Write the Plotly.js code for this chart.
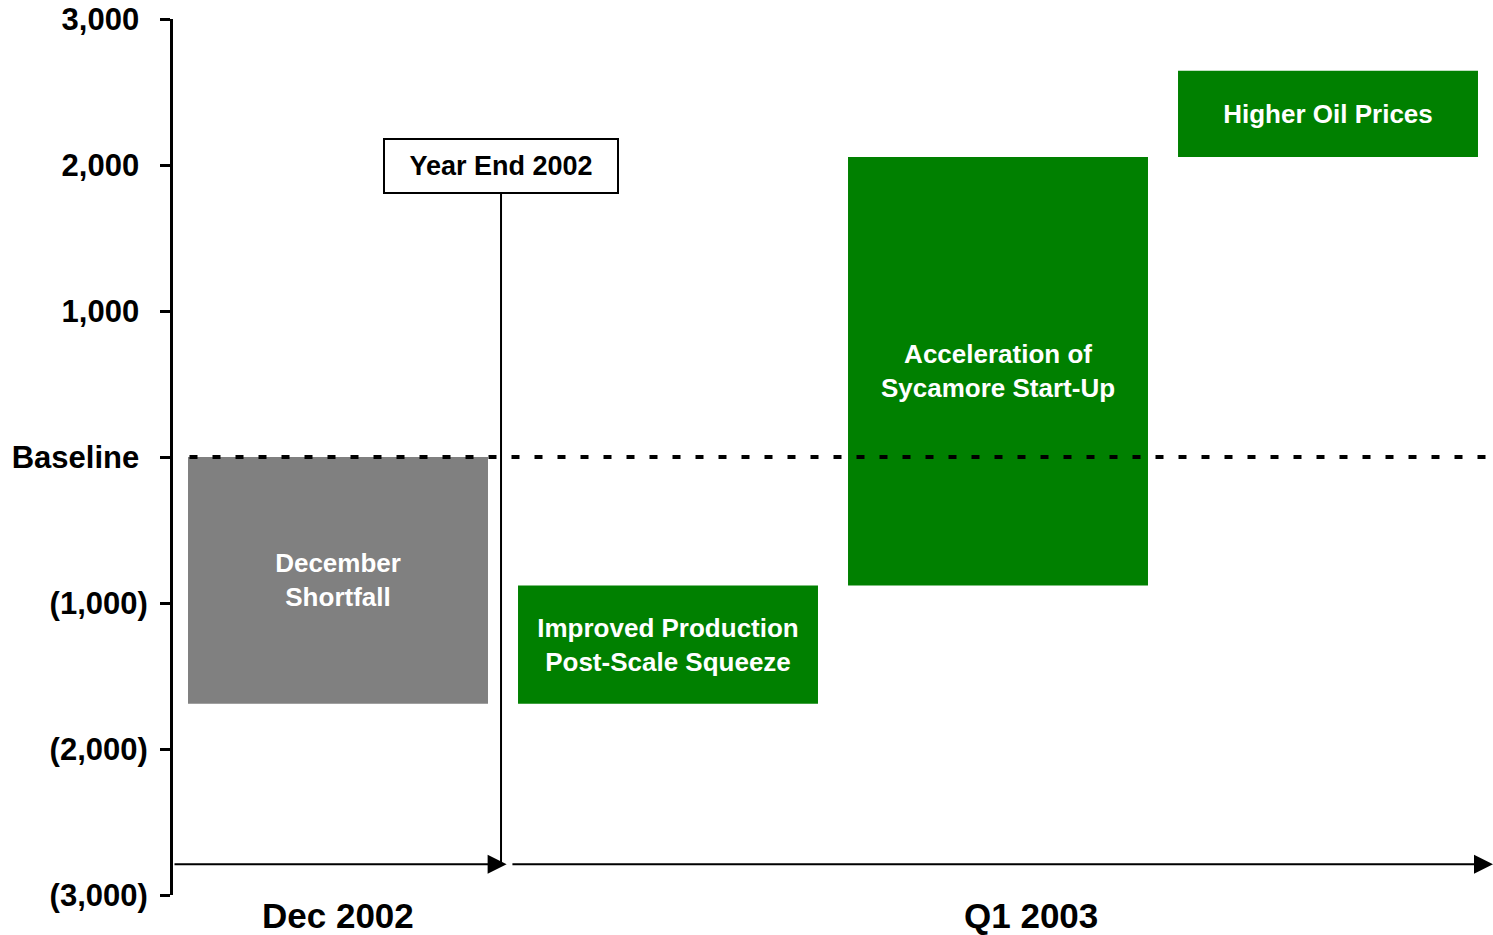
<!DOCTYPE html>
<html>
<head>
<meta charset="utf-8">
<script src="https://cdn.plot.ly/plotly-3.0.1.min.js"></script>
<style>html,body{margin:0;padding:0;background:#fff;}#chart{width:1493px;height:935px;}</style>
</head>
<body>
<div id="chart"></div>
<script>
// ---- data ----
const categories = ["December<br>Shortfall", "Improved Production<br>Post-Scale Squeeze", "Acceleration of<br>Sycamore Start-Up", "Higher Oil Prices"];
const deltas = [-1690, 810, 2935, 590];
const barColors = ["#808080", "#008000", "#008000", "#008000"];
const yTickVals = [3000, 2000, 1000, 0, -1000, -2000, -3000];
const yTickText = ["3,000\u00a0", "2,000\u00a0", "1,000\u00a0", "Baseline\u00a0", "(1,000)", "(2,000)", "(3,000)"];
const periodLabels = ["Dec 2002", "Q1 2003"];
const markerLabel = "Year End 2002";

// cumulative bases
const bases = [];
let run = 0;
for (const d of deltas) { bases.push(run); run += d; }
const xs = categories.map((_, i) => i + 0.5);

const FONT = "Liberation Sans, Arial, sans-serif";

const trace = {
  type: "bar",
  x: xs,
  y: deltas,
  base: bases,
  width: 0.909,
  marker: {color: barColors, line: {width: 0}},
  text: categories,
  textposition: "inside",
  insidetextanchor: "middle",
  textangle: 0,
  textfont: {family: FONT, size: 26, color: "#ffffff", weight: "bold"},
  hoverinfo: "skip",
  cliponaxis: false
};

const arrowY = -2790;
const periodX = [0.5, 2.6];
const periodAnn = periodLabels.map((t, i) => ({
  xref: "x", yref: "y", x: periodX[i], y: -3000, yanchor: "top", yshift: 1,
  text: t, showarrow: false,
  font: {family: FONT, size: 35, color: "#000", weight: "bold"}
}));

const layout = {
  width: 1493, height: 935,
  margin: {l: 173, r: 0, t: 19, b: 40},
  paper_bgcolor: "#ffffff", plot_bgcolor: "#ffffff",
  showlegend: false,
  xaxis: {
    range: [0, 4], showgrid: false, zeroline: false, showline: false,
    ticks: "", showticklabels: false, fixedrange: true
  },
  yaxis: {
    range: [-3000, 3000], showgrid: false, zeroline: false,
    showline: true, linecolor: "#000", linewidth: 3,
    ticks: "outside", ticklen: 10, tickwidth: 3, tickcolor: "#000",
    tickvals: yTickVals, ticktext: yTickText, ticklabelstandoff: 6,
    tickfont: {family: FONT, size: 31, color: "#000", weight: "bold"},
    fixedrange: true
  },
  shapes: [
    {type: "line", xref: "x", yref: "y", x0: 0.05, x1: 4, y0: 0, y1: 0,
     line: {color: "#000", width: 4, dash: "8px,15px"}, layer: "above"},
    {type: "line", xref: "x", yref: "y", x0: 0.994, x1: 0.994, y0: -2795, y1: 1808,
     line: {color: "#000", width: 2}, layer: "above"}
  ],
  annotations: [
    {xref: "x", yref: "y", x: 1.011, y: arrowY, ax: 0, ay: arrowY, axref: "x", ayref: "y",
     text: "", showarrow: true, arrowhead: 2, arrowsize: 1.9, arrowwidth: 2, arrowcolor: "#000"},
    {xref: "x", yref: "y", x: 4.0, y: arrowY, ax: 1.024, ay: arrowY, axref: "x", ayref: "y",
     text: "", showarrow: true, arrowhead: 2, arrowsize: 1.9, arrowwidth: 2, arrowcolor: "#000"},
    {xref: "x", yref: "y", x: 0.994, y: 1993, text: markerLabel, showarrow: false,
     font: {family: FONT, size: 27, color: "#000", weight: "bold"},
     bgcolor: "#ffffff", bordercolor: "#000", borderwidth: 2,
     width: 230, height: 50, xanchor: "center", yanchor: "middle"}
  ].concat(periodAnn)
};

Plotly.newPlot("chart", [trace], layout, {displayModeBar: false, staticPlot: true});
</script>
</body>
</html>
